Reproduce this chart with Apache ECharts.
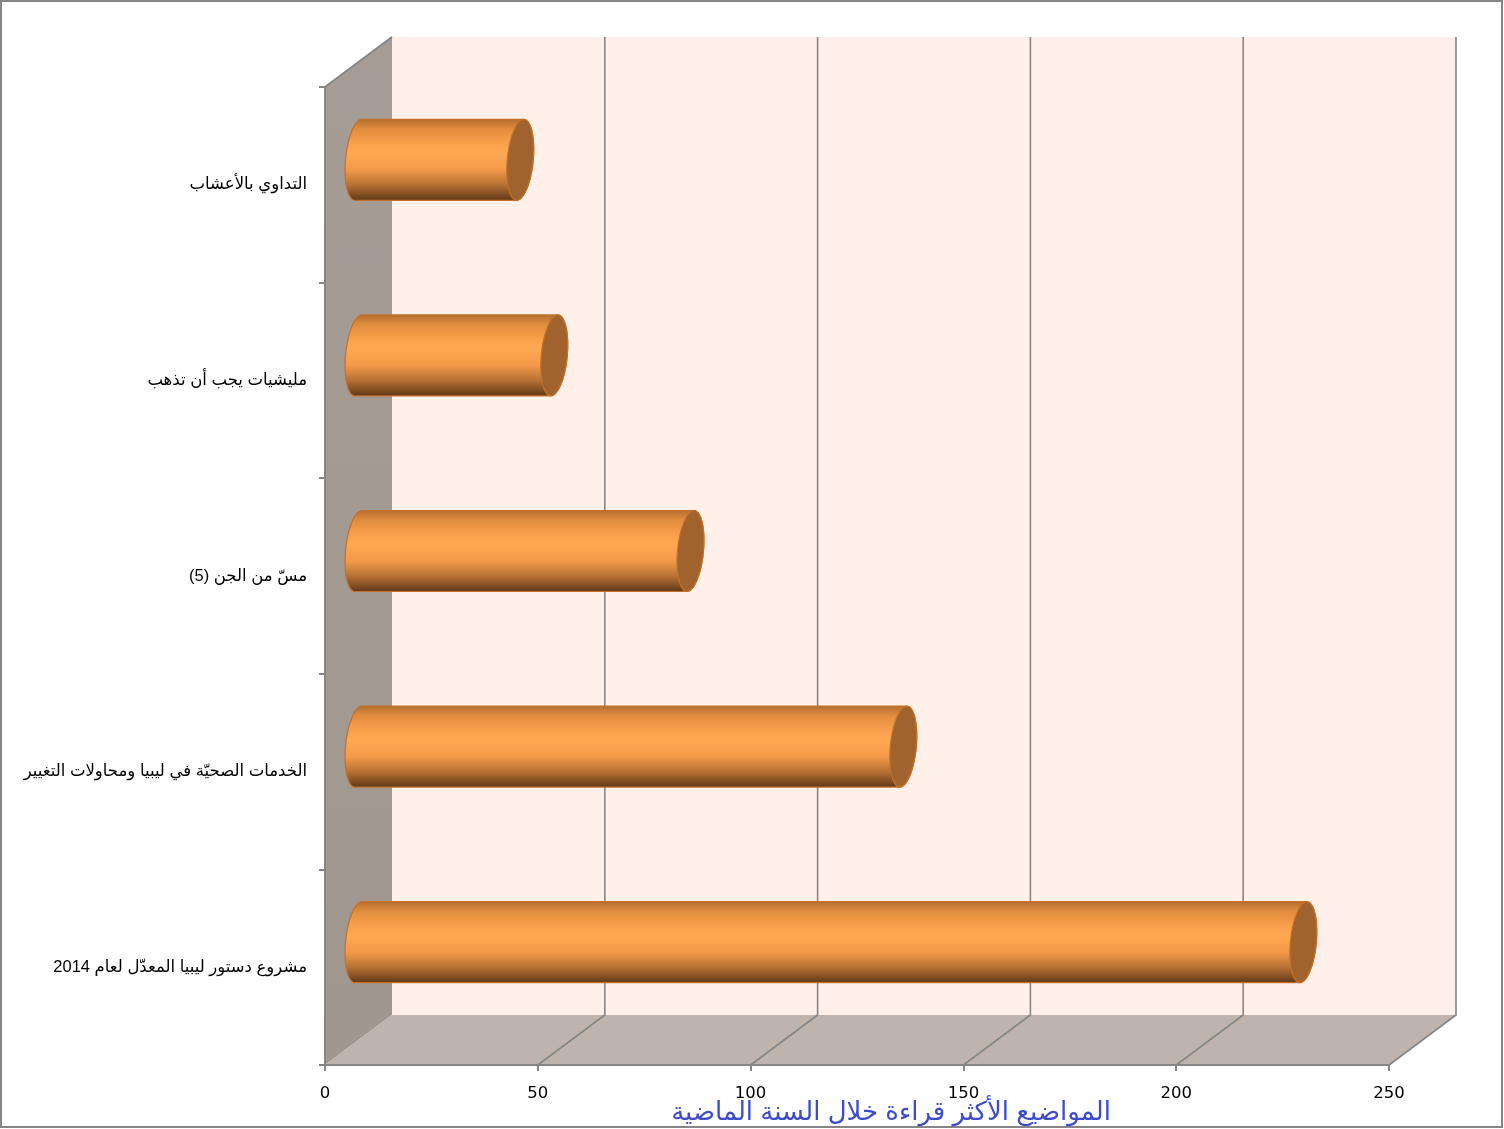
<!DOCTYPE html>
<html lang="ar">
<head>
<meta charset="utf-8">
<title>المواضيع الأكثر قراءة خلال السنة الماضية</title>
<script src="https://cdn.jsdelivr.net/npm/echarts@6/dist/echarts.min.js"></script>
<style>
  html, body { margin: 0; padding: 0; background: #fff; }
  #chart { width: 1504px; height: 1129px; }
</style>
</head>
<body>
<div id="chart"></div>
<script>
const categories = [
  'مشروع دستور ليبيا المعدّل لعام 2014',
  'الخدمات الصحيّة في ليبيا ومحاولات التغيير',
  'مسّ من الجن (5)',
  'مليشيات يجب أن تذهب',
  'التداوي بالأعشاب',
]
const values = [222, 128, 78, 46, 38]
const xTicks = [0, 50, 100, 150, 200, 250]
const titleText = 'المواضيع الأكثر قراءة خلال السنة الماضية'

const depthX = 67
const depthY = 50
const axisColor = '#868686'
const font = '"DejaVu Sans", sans-serif'
const labelFont = 'Arial, "Liberation Sans", "DejaVu Sans", sans-serif'

const chart = echarts.init(document.getElementById('chart'))

// walls of the fake 3d box, back wall and floor shifted by the depth
const renderWalls = (params) => {
  const { x, y, width, height } = params.coordSys
  const bottom = y + height
  return {
    type: 'group',
    children: [
      {
        type: 'rect',
        shape: { x: x + depthX, y: y - depthY, width, height },
        style: { fill: '#fff0e9' },
      },
      {
        type: 'polygon',
        shape: { points: [[x, y], [x + depthX, y - depthY], [x + depthX, bottom - depthY], [x, bottom]] },
        style: {
          fill: new echarts.graphic.LinearGradient(0, 0, 0, 1, [
            { offset: 0, color: '#a69d96' },
            { offset: 1, color: '#a0978f' },
          ]),
        },
      },
      {
        type: 'polygon',
        shape: { points: [[x, bottom], [x + depthX, bottom - depthY], [x + width + depthX, bottom - depthY], [x + width, bottom]] },
        style: { fill: '#bfb3ae' },
      },
      {
        type: 'polyline',
        shape: { points: [[x, y], [x + depthX, y - depthY]] },
        style: { stroke: axisColor, lineWidth: 2, fill: 'none' },
      },
    ],
  }
}

const renderGridLine = (params, api) => {
  const { y, height } = params.coordSys
  const bottom = y + height
  const px = api.coord([api.value(0), 0])[0]
  return {
    type: 'polyline',
    shape: { points: [[px, bottom], [px + depthX, bottom - depthY], [px + depthX, y - depthY]] },
    style: { stroke: axisColor, lineWidth: 1.6, fill: 'none' },
  }
}

// outline of a sheared ellipse, from angle a to angle b
const arc = (cx, cy, rx, ry, shear, a, b) => {
  const pts = []
  const steps = 40
  for (let i = 0; i <= steps; i++) {
    const t = a + ((b - a) * i) / steps
    pts.push([cx + rx * Math.cos(t) - shear * Math.sin(t), cy + ry * Math.sin(t)])
  }
  return pts
}

const renderCylinder = (params, api) => {
  const start = api.coord([0, api.value(1)])
  const end = api.coord([api.value(0), api.value(1)])
  const ry = api.size([0, 1])[1] * 0.207
  const rx = 13
  const shear = 3.5
  const cy = start[1] - depthY / 2
  const x0 = start[0] + depthX / 2
  const x1 = end[0] + depthX / 2
  const body = [
    ...arc(x0, cy, rx, ry, shear, -Math.PI / 2, -Math.PI * 1.5),
    ...arc(x1, cy, rx, ry, shear, Math.PI / 2, -Math.PI / 2),
  ]
  return {
    type: 'group',
    children: [
      {
        type: 'polygon',
        shape: { points: body },
        style: {
          fill: new echarts.graphic.LinearGradient(0, 0, 0, 1, [
            { offset: 0, color: '#b26c2e' },
            { offset: 0.12, color: '#e08c3e' },
            { offset: 0.3, color: '#f9a04c' },
            { offset: 0.42, color: '#ffa851' },
            { offset: 0.62, color: '#f29a49' },
            { offset: 0.8, color: '#b97234' },
            { offset: 1, color: '#5d3717' },
          ]),
          stroke: '#c4702a',
          lineWidth: 1.2,
        },
      },
      {
        type: 'polygon',
        shape: { points: arc(x1, cy, rx, ry, shear, 0, Math.PI * 2) },
        style: { fill: '#a0632d', stroke: '#c4702a', lineWidth: 1.2 },
      },
    ],
  }
}

chart.setOption({
  animation: false,
  backgroundColor: '#fff',
  textStyle: { fontFamily: font },
  graphic: [
    {
      type: 'rect',
      silent: true,
      shape: { x: 1, y: 1, width: 1501, height: 1126 },
      style: { fill: 'none', stroke: axisColor, lineWidth: 2 },
    },
    {
      type: 'text',
      silent: true,
      z: 10,
      style: {
        x: 891,
        y: 1113,
        text: titleText,
        align: 'center',
        verticalAlign: 'middle',
        fill: '#3d4ccc',
        font: '26px ' + labelFont,
      },
    },
  ],
  grid: { left: 325, right: 115, top: 87, bottom: 64 },
  xAxis: {
    type: 'value',
    min: 0,
    max: 250,
    interval: 50,
    z: 5,
    splitLine: { show: false },
    axisLine: { show: true, lineStyle: { color: axisColor, width: 2 } },
    axisTick: { show: true, length: 6, lineStyle: { color: axisColor, width: 2 } },
    axisLabel: { color: '#000', fontSize: 16.5, margin: 20, fontFamily: font, hideOverlap: false },
  },
  yAxis: {
    type: 'category',
    data: categories,
    z: 5,
    axisLine: { show: true, lineStyle: { color: axisColor, width: 2 } },
    axisTick: { show: true, length: 6, lineStyle: { color: axisColor, width: 2 } },
    axisLabel: { color: '#000', fontSize: 16.5, margin: 18, padding: [3, 0, 0, 0], fontFamily: labelFont, interval: 0 },
  },
  series: [
    {
      type: 'custom',
      coordinateSystem: 'cartesian2d',
      z: 1,
      silent: true,
      renderItem: renderWalls,
      data: [0],
      encode: { x: 0 },
    },
    {
      type: 'custom',
      coordinateSystem: 'cartesian2d',
      z: 2,
      silent: true,
      renderItem: renderGridLine,
      data: xTicks.slice(1).map((t) => [t]),
      encode: { x: 0 },
    },
    {
      type: 'custom',
      coordinateSystem: 'cartesian2d',
      z: 3,
      renderItem: renderCylinder,
      data: values.map((v, i) => [v, i]),
      encode: { x: 0, y: 1 },
    },
  ],
})

window.addEventListener('resize', () => chart.resize())
</script>
</body>
</html>
